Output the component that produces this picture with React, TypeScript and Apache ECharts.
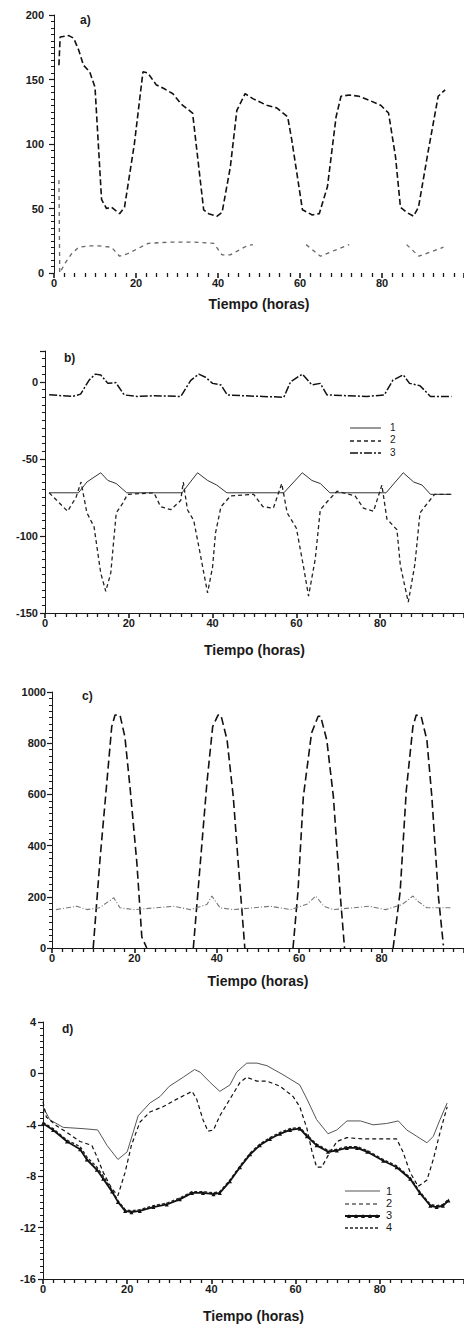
import React, { useEffect, useRef } from "react";
import * as echarts from "echarts";

type P = [number, number | null][];

// Panel a)
const aUpper: P = [[1.2,161],[1.5,183],[3.6,184],[4.8,182],[6,173],[7.2,161],[8.7,156],[10,144],[11.6,57],[12.8,50],[14,51],[16,46],[17.2,51],[19.6,100],[21.7,156],[22.9,155],[24.9,146],[26.8,143],[29,139],[31,131],[33.8,124],[36.5,49],[37.7,46],[39.8,44],[41,47],[43,82],[44.6,126],[46.6,139],[48.6,135],[51.9,130],[54.3,128],[57,121],[58,103],[60.6,49],[63,45],[64.7,46],[66.7,67],[68.8,121],[70,137],[72,138],[74.4,137],[76.8,134],[79.7,130],[81.6,124],[83.3,90],[84.5,51],[86,47],[87.7,44],[88.9,51],[91.3,95],[93.7,137],[95.4,142]];
const aLower: P = [[1.2,72],[1.4,0],[2.8,8],[4.3,15],[6,20],[8.4,21],[10.9,21],[14,20],[16,13],[18,15],[20.5,19],[23,23],[28.5,24],[34,24],[39,23],[41,14],[43,14],[47,21],[48.5,22],[50,null],[61.5,22],[65,13],[68,17],[72,22],[78,null],[86,22],[89,13],[95,20]];

// Panel b)
const b1: P = [[1,-72],[8,-72],[10,-65],[13.3,-59],[15,-64],[17,-66],[19.5,-72],[32.7,-72],[36.4,-59],[38.8,-64],[41,-67],[43.4,-72],[57,-72],[61.4,-59],[63.7,-64],[65.7,-66],[68,-72],[81.4,-72],[85.5,-59],[88,-65],[90,-67],[92,-73],[97,-73]];
const b2: P = [[1,-72],[5.4,-84],[7.4,-75],[8.6,-65],[10,-85],[11.7,-94],[13.3,-124],[14.5,-136],[15.7,-124],[17,-85],[18.5,-79],[19.7,-73],[26,-72],[27.6,-81],[30,-83],[32.4,-77],[33,-65],[34,-83],[35.5,-90],[37,-111],[38.8,-137],[40,-120],[40.7,-98],[42,-81],[44.3,-74],[49.8,-73],[52,-81],[54.5,-82],[56.5,-66],[57.8,-85],[60,-95],[61.7,-120],[62.9,-139],[64.5,-115],[65.7,-83],[67.6,-77],[69.7,-71],[74,-74],[76,-82],[78.4,-84],[80.4,-67],[81.6,-89],[84,-96],[84.8,-119],[86.7,-143],[88.3,-118],[89.5,-85],[91.2,-79],[93,-73],[97,-73]];
const b3: P = [[1,-8.4],[6.6,-9.5],[8.5,-8],[10.5,1],[12,5],[13.3,4.5],[15,-1],[16.9,-0.5],[18.9,-8.5],[22,-9.5],[26,-9],[32.4,-9.5],[34.8,1],[36.7,5],[38.3,3],[40,-1],[42,-2],[43.5,-8.5],[47,-9],[52,-9.5],[57,-10],[58.6,0],[61.4,5],[63.7,-2],[65.7,-1],[67.3,-8.5],[72,-9],[76.8,-9.5],[81,-8.5],[83,1],[85.5,4.5],[87,-1],[89.5,-2.5],[92,-9.5],[97,-9.5]];

// Panel c)
const cBig: P = [[10,0],[11.7,355],[13.3,645],[14.5,865],[15.3,910],[16.5,910],[17.7,824],[19,617],[20.6,332],[21.8,43],[23,0],[28,null],[34.3,0],[36,332],[37.6,645],[39,865],[40.3,910],[41,910],[42.5,812],[44,590],[45.2,332],[46.8,0],[52,null],[58.5,0],[59.7,220],[61,590],[63,840],[64.6,905],[65.2,905],[66.7,812],[68.3,590],[70,200],[71,0],[76,null],[82.8,0],[84.5,220],[86,617],[87.6,865],[88.4,910],[89.6,905],[91,812],[92.2,590],[93.8,200],[95,10]];
const cSmall: P = [[1,150],[6,163],[8.5,150],[11.5,157],[15,196],[16.5,157],[20,150],[29.5,163],[33.6,150],[37.6,170],[38.8,203],[40.8,157],[44,150],[53,163],[58,150],[62,172],[64,203],[66,163],[68.3,150],[77,163],[81,150],[85,170],[87.6,203],[89,180],[91,157],[97,157]];

// Panel d)
const d1: P = [[0,-2.6],[1.6,-3.6],[4.8,-4.2],[9.5,-4.3],[13,-4.4],[15.2,-5.6],[17.8,-6.7],[20,-6.1],[21.4,-4.6],[22.6,-3.3],[25.4,-2.3],[27.8,-1.8],[30,-1],[33.3,-0.3],[36,0.3],[37.3,0.1],[39.7,-0.7],[42,-1.4],[44.4,-0.9],[46,0.1],[48.4,0.8],[50.8,0.8],[53.2,0.6],[57,-0.1],[61,-0.9],[62.7,-2],[65,-3.6],[67.7,-4.7],[69.8,-4.4],[72.2,-3.7],[75.4,-3.7],[78.4,-4],[81.6,-3.9],[84.4,-3.7],[86.4,-4.4],[88.8,-4.9],[91.2,-5.4],[92.7,-4.9],[94.3,-3.6],[96,-2.3]];
const d2: P = [[0,-2.2],[0.8,-3.4],[3.3,-4.1],[5.7,-4.6],[8.8,-5.3],[11.6,-5.6],[12.7,-6.4],[14.3,-7.7],[16.4,-9],[17.8,-9.5],[19.5,-7.7],[21,-5.6],[23,-3.8],[25.4,-3],[28.5,-2.6],[31.8,-2],[35.4,-1.4],[36.5,-2],[38,-3.6],[39.2,-4.5],[40.5,-4.4],[42,-3.3],[44.4,-2],[46.8,-0.7],[48.4,-0.3],[50.8,-0.6],[53.2,-0.6],[56.3,-1],[59.4,-1.8],[61,-2.6],[62.7,-4.3],[63.9,-6.1],[65,-7.3],[66.2,-7.3],[67.7,-6.4],[69.8,-5.3],[72.2,-5],[76.2,-5.1],[80.8,-5.1],[84,-5.1],[85.5,-6.1],[87.2,-7.7],[89.1,-8.8],[91.2,-8.3],[92.7,-6.7],[94.3,-4.6],[96,-2.6]];
const d3: P = [[0,-3.9],[2.4,-4.4],[5.7,-5.3],[8.8,-5.9],[10.4,-6.7],[12.8,-7.5],[14.3,-8.2],[16.4,-9.2],[17.8,-10],[19.5,-10.7],[21,-10.8],[23,-10.7],[26.2,-10.4],[29.4,-10.2],[32.5,-9.8],[35.4,-9.3],[38,-9.3],[40.5,-9.4],[42,-9.3],[44.4,-8.4],[46.8,-7.3],[49.2,-6.3],[51.5,-5.6],[53.9,-5.1],[56.3,-4.7],[58.7,-4.4],[61,-4.3],[62.7,-4.9],[65,-5.6],[67.7,-6.1],[69.8,-6],[72.2,-5.8],[74.6,-5.8],[77,-6.1],[80.8,-6.8],[84,-7.3],[87.2,-8.2],[89.5,-9.3],[92,-10.3],[93.5,-10.4],[95,-10.3],[96.3,-9.9]];
const d4: P = [[0,-3.8],[2.4,-4.3],[5.7,-5.2],[8.8,-5.7],[10.4,-6.5],[12.8,-7.3],[14.3,-8.0],[16.4,-9.1],[17.8,-9.9],[19.5,-10.6],[21,-10.7],[23,-10.6],[26.2,-10.3],[29.4,-10.1],[32.5,-9.7],[35.4,-9.2],[38,-9.2],[40.5,-9.3],[42,-9.2],[44.4,-8.3],[46.8,-7.2],[49.2,-6.2],[51.5,-5.5],[53.9,-5.0],[56.3,-4.6],[58.7,-4.3],[61,-4.2],[62.7,-4.8],[65,-5.5],[67.7,-6.0],[69.8,-5.9],[72.2,-5.7],[74.6,-5.7],[77,-6.0],[80.8,-6.7],[84,-7.2],[87.2,-8.1],[89.5,-9.2],[92,-10.2],[93.5,-10.3],[95,-10.2],[96.3,-9.8]];

const xTitle = "Tiempo (horas)";
const legendB = ["1", "2", "3"];
const legendD = ["1", "2", "3", "4"];

const FONT = "'Liberation Sans', Arial, sans-serif";
const INK = "#1a1a1a";

export default function App() {
  const ref = useRef<HTMLDivElement>(null);
  useEffect(() => {
    document.body.style.margin = "0";
    const chart = echarts.init(ref.current!, null, { renderer: "svg" });

    const grids = [
      { left: 54, top: 15, width: 410, height: 258, nameGap: 24, yMin: 0, yMax: 200, yInt: 50, yMinor: 10, lm: 10, showX: false },
      { left: 45, top: 351, width: 419, height: 262, nameGap: 30, yMin: -150, yMax: 20, yInt: 50, yMinor: 10, lm: 7, showX: true },
      { left: 52, top: 692, width: 412, height: 256, nameGap: 26, yMin: 0, yMax: 1000, yInt: 200, yMinor: 8, lm: 6, showX: true },
      { left: 43, top: 1022, width: 421, height: 261, nameGap: 30, yMin: -16, yMax: 4, yInt: 4, yMinor: 8, lm: 7, showX: true },
    ];

    const option: any = {
      animation: false,
      backgroundColor: "#ffffff",
      textStyle: { fontFamily: FONT },
      grid: grids.map((g) => ({ left: g.left, top: g.top, width: g.width, height: g.height })),
      xAxis: grids.map((g, i) => ({
        type: "value",
        gridIndex: i,
        min: 0,
        max: 100,
        interval: 20,
        name: xTitle,
        nameLocation: "middle",
        nameGap: g.nameGap,
        nameTextStyle: { fontSize: 14, color: INK, fontFamily: FONT, fontWeight: "bold" },
        axisLine: { show: g.showX, onZero: false, lineStyle: { color: INK, width: 1 } },
        axisTick: { show: true, length: 5, lineStyle: { color: INK, width: 1.6 } },
        minorTick: { show: true, splitNumber: 8, length: 4, lineStyle: { color: INK, width: 1.3 } },
        axisLabel: { fontSize: 11, color: INK, fontWeight: "bold", margin: 4, showMaxLabel: false },
        splitLine: { show: false },
      })),
      yAxis: grids.map((g, i) => ({
        type: "value",
        gridIndex: i,
        min: g.yMin,
        max: g.yMax,
        interval: g.yInt,
        axisLine: { show: true, onZero: false, lineStyle: { color: INK, width: 1 } },
        axisTick: { show: true, length: 5, lineStyle: { color: INK, width: 1.2 } },
        minorTick: { show: true, splitNumber: g.yMinor, length: 3, lineStyle: { color: INK, width: 1 } },
        axisLabel: {
          fontSize: 11,
          color: INK,
          fontWeight: "bold",
          margin: g.lm,
          formatter: (v: number) => (i === 1 && v === 20 ? "" : String(v)),
        },
        splitLine: { show: false },
      })),
      series: [
        { name: "a1", type: "line", xAxisIndex: 0, yAxisIndex: 0, data: aUpper, showSymbol: false,
          lineStyle: { color: "#111", width: 1.6, type: [6, 3] } },
        { name: "a2", type: "line", xAxisIndex: 0, yAxisIndex: 0, data: aLower, showSymbol: false, connectNulls: false,
          lineStyle: { color: "#666", width: 1.3, type: [4, 4] } },
        { name: "b1", type: "line", xAxisIndex: 1, yAxisIndex: 1, data: b1, showSymbol: false,
          lineStyle: { color: "#333", width: 1 } },
        { name: "b2", type: "line", xAxisIndex: 1, yAxisIndex: 1, data: b2, showSymbol: false,
          lineStyle: { color: "#222", width: 1.3, type: [4, 3] } },
        { name: "b3", type: "line", xAxisIndex: 1, yAxisIndex: 1, data: b3, showSymbol: false,
          lineStyle: { color: "#111", width: 1.5, type: [8, 2, 2, 2] } },
        { name: "c1", type: "line", xAxisIndex: 2, yAxisIndex: 2, data: cBig, showSymbol: false, connectNulls: false,
          lineStyle: { color: "#111", width: 1.6, type: [8, 4] } },
        { name: "c2", type: "line", xAxisIndex: 2, yAxisIndex: 2, data: cSmall, showSymbol: false,
          lineStyle: { color: "#777", width: 1.1, type: [5, 2, 1, 2] } },
        { name: "d1", type: "line", xAxisIndex: 3, yAxisIndex: 3, data: d1, showSymbol: false,
          lineStyle: { color: "#555", width: 1 } },
        { name: "d2", type: "line", xAxisIndex: 3, yAxisIndex: 3, data: d2, showSymbol: false,
          lineStyle: { color: "#111", width: 1.2, type: [4, 3] } },
        { name: "d4", type: "line", xAxisIndex: 3, yAxisIndex: 3, data: d4, showSymbol: false,
          lineStyle: { color: "#222", width: 1.4, type: [3, 2] } },
        { name: "d3", type: "line", xAxisIndex: 3, yAxisIndex: 3, data: d3, symbol: "triangle", symbolSize: 4,
          showSymbol: true, itemStyle: { color: "#111" }, lineStyle: { color: "#111", width: 1.8 } },
      ],
      graphic: [
        { type: "text", left: 80, top: 14, style: { text: "a)", fill: INK, font: `bold 12px ${FONT}` } },
        { type: "text", left: 64, top: 352, style: { text: "b)", fill: INK, font: `bold 12px ${FONT}` } },
        { type: "text", left: 82, top: 690, style: { text: "c)", fill: INK, font: `bold 12px ${FONT}` } },
        { type: "text", left: 62, top: 1023, style: { text: "d)", fill: INK, font: `bold 12px ${FONT}` } },
        // legend b
        { type: "line", shape: { x1: 350, y1: 428, x2: 381, y2: 428 }, style: { stroke: "#333", lineWidth: 1 } },
        { type: "line", shape: { x1: 350, y1: 441, x2: 381, y2: 441 }, style: { stroke: "#222", lineWidth: 1.3, lineDash: [4, 3] } },
        { type: "line", shape: { x1: 350, y1: 453, x2: 381, y2: 453 }, style: { stroke: "#111", lineWidth: 1.5, lineDash: [8, 2, 2, 2] } },
        ...legendB.map((t, k) => ({ type: "text", left: 390, top: 422 + k * 12.5, style: { text: t, fill: INK, font: `10px ${FONT}` } })),
        // legend d
        { type: "line", shape: { x1: 345, y1: 1191, x2: 380, y2: 1191 }, style: { stroke: "#555", lineWidth: 1 } },
        { type: "line", shape: { x1: 345, y1: 1204, x2: 380, y2: 1204 }, style: { stroke: "#111", lineWidth: 1.2, lineDash: [4, 3] } },
        { type: "line", shape: { x1: 345, y1: 1216, x2: 380, y2: 1216 }, style: { stroke: "#111", lineWidth: 1.8 } },
        { type: "line", shape: { x1: 345, y1: 1228, x2: 380, y2: 1228 }, style: { stroke: "#222", lineWidth: 1.4, lineDash: [3, 2] } },
        ...[349, 356, 363, 370, 377].map((x) => ({ type: "polygon", shape: { points: [[x - 2, 1218], [x + 2, 1218], [x, 1214]] }, style: { fill: "#111" } })),
        ...legendD.map((t, k) => ({ type: "text", left: 386, top: 1185 + k * 12.3, style: { text: t, fill: INK, font: `11px ${FONT}` } })),
      ],
    };
    chart.setOption(option);
    return () => chart.dispose();
  }, []);
  return <div ref={ref} style={{ width: 464, height: 1324, background: "#fff" }} />;
}
